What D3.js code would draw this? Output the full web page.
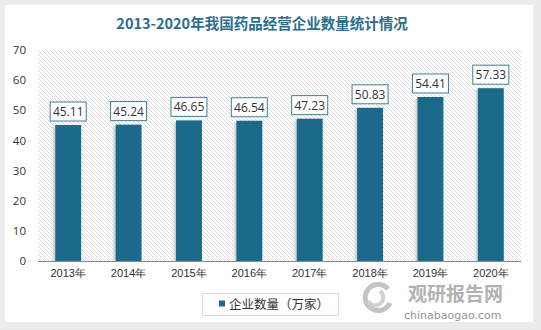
<!DOCTYPE html>
<html><head><meta charset="utf-8">
<script src="https://cdn.jsdelivr.net/npm/d3@7"></script>
<style>
html,body{margin:0;padding:0;background:#ececec;}
svg{display:block;font-family:"Microsoft YaHei","Noto Sans CJK SC","Open Sans",sans-serif;}
</style></head>
<body><svg id="c" width="541" height="330"></svg>
<script>
const categories = ["2013年","2014年","2015年","2016年","2017年","2018年","2019年","2020年"];
const values = [45.11,45.24,46.65,46.54,47.23,50.83,54.41,57.33];
const yTicks = [0,10,20,30,40,50,60,70];
const seriesName = "企业数量（万家）";
const title = "2013-2020年我国药品经营企业数量统计情况";

const svg = d3.select("#c");
const defs = svg.append("defs");
const pat = defs.append("pattern").attr("id","hatch").attr("patternUnits","userSpaceOnUse")
  .attr("width",4).attr("height",4);
pat.append("rect").attr("width",4).attr("height",4).attr("fill","#ffffff");
pat.append("path").attr("d","M-1,-1 L5,5 M3,-1 L5,1 M-1,3 L1,5").attr("stroke","#dcdcdc").attr("stroke-width",1);
const grad = defs.append("linearGradient").attr("id","shadow").attr("x1","0").attr("x2","1");
grad.append("stop").attr("offset","0").attr("stop-color","#ffffff").attr("stop-opacity",0);
grad.append("stop").attr("offset","1").attr("stop-color","#b8b8b8").attr("stop-opacity",0.8);

// card
svg.append("rect").attr("x",5).attr("y",5).attr("width",528).attr("height",317).attr("fill","#fff");

const x = d3.scaleBand().domain(categories).range([38,521]).paddingInner(0.57).paddingOuter(0.285);
const y = d3.scaleLinear().domain([0,70]).range([261,50]);

// plot bg
svg.append("rect").attr("x",38).attr("y",50).attr("width",483).attr("height",211).attr("fill","url(#hatch)");

// title
svg.append("text").attr("x",262).attr("y",29).attr("text-anchor","middle")
  .attr("font-size",14.5).attr("font-weight","bold").attr("fill","#2b6d8c").text(title);

// y axis
const ya = svg.append("g").attr("transform","translate(38,0)")
  .call(d3.axisLeft(y).tickValues(yTicks).tickSize(0).tickPadding(12));
ya.select(".domain").remove();
ya.selectAll("text").attr("font-size",11.5).attr("fill","#333").attr("font-family","'Open Sans',sans-serif");

// x axis
const xa = svg.append("g").attr("transform","translate(0,261)")
  .call(d3.axisBottom(x).tickSize(0).tickPadding(8));
xa.select(".domain").attr("stroke","#8a8a8a").attr("d","M38,0.5H521");
xa.selectAll("text").attr("font-size",11).attr("fill","#333");

// bar shadows
svg.append("g").selectAll("rect").data(values).join("rect")
  .attr("x",(d,i)=>x(categories[i])-6).attr("y",(d)=>y(d)+2)
  .attr("width",6).attr("height",d=>261-y(d)-2).attr("fill","url(#shadow)");

// bars
svg.append("g").selectAll("rect").data(values).join("rect")
  .attr("x",(d,i)=>x(categories[i])).attr("y",d=>y(d))
  .attr("width",x.bandwidth()).attr("height",d=>261-y(d)).attr("fill","#1b6a8c");

// labels
const lg = svg.append("g").selectAll("g").data(values).join("g")
  .attr("transform",(d,i)=>`translate(${x(categories[i])+x.bandwidth()/2},${y(d)-4})`);
lg.append("rect").attr("x",-18).attr("y",-19).attr("width",36).attr("height",19)
  .attr("fill","#fff").attr("stroke","#3f7f95").attr("stroke-width",1);
lg.append("text").attr("y",-5).attr("text-anchor","middle").attr("font-size",12)
  .attr("fill","#333").attr("font-family","'Open Sans',sans-serif").text(d=>d.toFixed(2));

// legend
svg.append("rect").attr("x",202.5).attr("y",293.5).attr("width",136).attr("height",22)
  .attr("fill","#fff").attr("stroke","#d9d9d9");
svg.append("rect").attr("x",219).attr("y",300.5).attr("width",6).attr("height",6).attr("fill","#1b6a8c");
svg.append("text").attr("x",229).attr("y",309).attr("font-size",12.5).attr("fill","#333").text(seriesName);

// watermark
svg.append("path").attr("d","M388,289 A13,13 0 1 0 390,303").attr("fill","none")
  .attr("stroke","#c4c4c4").attr("stroke-width",5);
svg.append("path").attr("d","M368,301 A8,8 0 1 0 380,291").attr("fill","none")
  .attr("stroke","#d0d0d0").attr("stroke-width",4);
svg.append("text").attr("x",408).attr("y",301).attr("font-size",19).attr("font-weight","bold")
  .attr("fill","#a0a0a0").attr("opacity",0.8).text("观研报告网");
svg.append("text").attr("x",404).attr("y",319).attr("font-size",11)
  .attr("fill","#8a8a8a").attr("opacity",0.9).attr("font-family","'DejaVu Sans',sans-serif").text("chinabaogao.com");
</script></body></html>
